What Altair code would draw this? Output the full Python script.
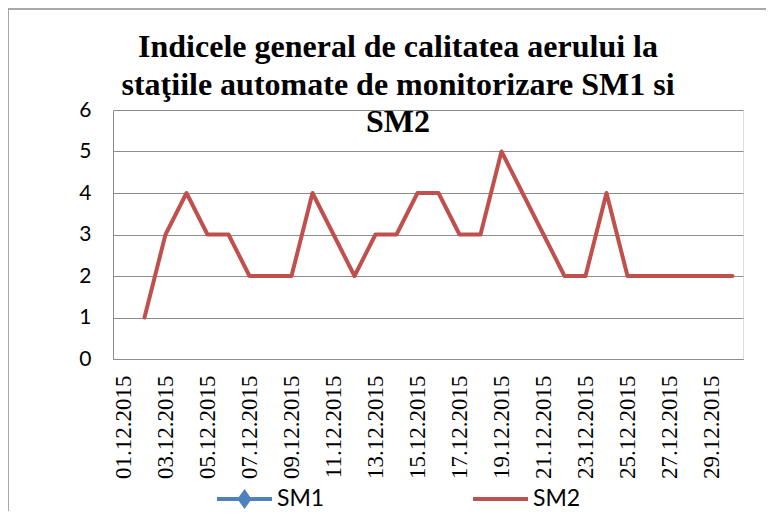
import altair as alt
import pandas as pd

dates = ["01.12.2015", "02.12.2015", "03.12.2015", "04.12.2015", "05.12.2015",
         "06.12.2015", "07.12.2015", "08.12.2015", "09.12.2015", "10.12.2015",
         "11.12.2015", "12.12.2015", "13.12.2015", "14.12.2015", "15.12.2015",
         "16.12.2015", "17.12.2015", "18.12.2015", "19.12.2015", "20.12.2015",
         "21.12.2015", "22.12.2015", "23.12.2015", "24.12.2015", "25.12.2015",
         "26.12.2015", "27.12.2015", "28.12.2015", "29.12.2015", "30.12.2015"]
sm1 = [None, None, None, None, None, None, None, None, None, None,
       None, None, None, None, None, None, None, None, None, None,
       None, None, None, None, None, None, None, None, None, None]
sm2 = [None, 1, 3, 4, 3, 3, 2, 2, 2, 4,
       3, 2, 3, 3, 4, 4, 3, 3, 5, 4,
       3, 2, 2, 4, 2, 2, 2, 2, 2, 2]
label_dates = ["01.12.2015", "03.12.2015", "05.12.2015", "07.12.2015", "09.12.2015",
               "11.12.2015", "13.12.2015", "15.12.2015", "17.12.2015", "19.12.2015",
               "21.12.2015", "23.12.2015", "25.12.2015", "27.12.2015", "29.12.2015"]
series_names = ["SM1", "SM2"]
series_colors = ["#4F81BD", "#C0504D"]
title_lines = ["Indicele general de calitatea aerului la",
               "staţiile automate de monitorizare SM1 si",
               "SM2"]

rows = []
for name, vals in zip(series_names, [sm1, sm2]):
    for d, v in zip(dates, vals):
        rows.append({"date": d, "series": name, "value": v})
df = pd.DataFrame(rows)

GRID = "#8C8C8C"
SERIF = "'Liberation Serif', 'Times New Roman', Times, serif"

sm1_path = "M-1,0H1M0,-0.24L0.17,0L0,0.24L-0.17,0Z"
sm2_path = "M-1,0H1"

line = alt.Chart(df).mark_line(strokeWidth=4, strokeJoin="round", strokeCap="round").encode(
    x=alt.X("date:O", sort=dates,
            scale=alt.Scale(type="point", padding=0.5, domain=dates),
            axis=alt.Axis(title=None, values=label_dates, labelAngle=-90,
                          labelFont=SERIF, labelFontSize=23,
                          labelColor="black", labelPadding=16, ticks=False,
                          domainColor=GRID, domainWidth=1, grid=False)),
    y=alt.Y("value:Q",
            scale=alt.Scale(domain=[0, 6], nice=False),
            axis=alt.Axis(title=None, values=[0, 1, 2, 3, 4, 5, 6],
                          labelFont="Lato", labelFontSize=21, labelColor="black",
                          labelPadding=22, ticks=False, domainColor=GRID,
                          domainWidth=1, gridColor=GRID, gridWidth=1)),
    color=alt.Color("series:N",
                    scale=alt.Scale(domain=series_names, range=series_colors),
                    legend=alt.Legend(
                        title=None, orient="none", direction="horizontal",
                        legendX=102, legendY=359.5, padding=0,
                        symbolType={"expr": f"datum.value == 'SM1' ? '{sm1_path}' : '{sm2_path}'"},
                        symbolFillColor={"expr": "datum.value == 'SM1' ? '#4F81BD' : 'transparent'"},
                        symbolSize=3025, symbolStrokeWidth=4,
                        labelFont="Lato", labelFontSize=23, labelColor="black",
                        labelOffset=3, columnPadding=140, gridAlign="none",
                        labelLimit=200))
)

frame = alt.Chart(pd.DataFrame({"k": [0]})).mark_rect(
    fill=None, stroke=GRID, strokeWidth=1.5
).encode(x=alt.value(-105), x2=alt.value(700), y=alt.value(-101), y2=alt.value(500))

chart = alt.layer(frame, line).properties(
    width=630, height=249,
    padding={"left": 105, "top": 102, "right": 23, "bottom": 152},
    autosize=alt.AutoSizeParams(type="none"),
    title=alt.TitleParams(text=title_lines, font=SERIF, fontSize=32,
                          fontWeight="bold", color="black", lineHeight=37.5,
                          anchor="middle", frame="group", dx=-30, offset=-156,
                          baseline="alphabetic")
).configure_view(stroke=None).configure(background="white")

chart.save("out.html", embed_options={"renderer": "svg", "actions": False})
